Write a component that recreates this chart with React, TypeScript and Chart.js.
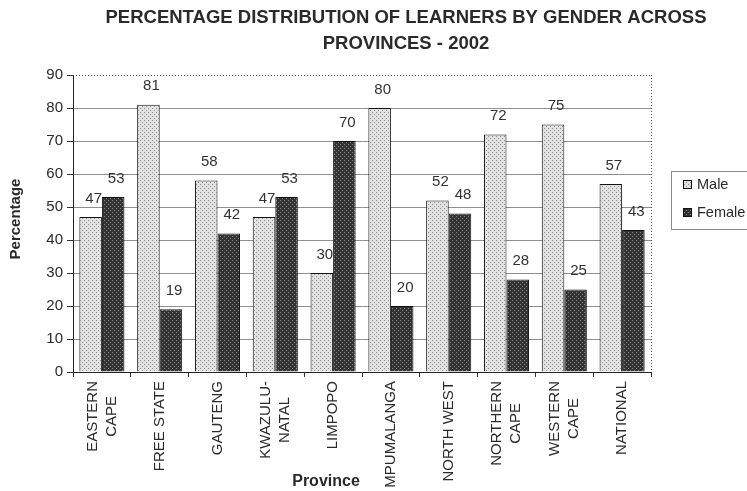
import React, { useEffect, useRef } from 'react';
import { Chart, registerables } from 'chart.js';

Chart.register(...registerables);

const titleLines = ['PERCENTAGE DISTRIBUTION OF LEARNERS BY GENDER ACROSS', 'PROVINCES - 2002'];
const categories: string[][] = [
  ['EASTERN', 'CAPE'],
  ['FREE STATE'],
  ['GAUTENG'],
  ['KWAZULU-', 'NATAL'],
  ['LIMPOPO'],
  ['MPUMALANGA'],
  ['NORTH WEST'],
  ['NORTHERN', 'CAPE'],
  ['WESTERN', 'CAPE'],
  ['NATIONAL'],
];
const maleValues = [47, 81, 58, 47, 30, 80, 52, 72, 75, 57];
const femaleValues = [53, 19, 42, 53, 70, 20, 48, 28, 25, 43];
const seriesNames = ['Male', 'Female'];
const yMin = 0;
const yMax = 90;
const yStep = 10;
const xTitle = 'Province';
const yTitle = 'Percentage';

const FONT = "'Liberation Sans', Arial, Helvetica, sans-serif";

function makePattern(bg: string, fg: string, pts: number[][]): CanvasPattern | string {
  const c = document.createElement('canvas');
  c.width = 4;
  c.height = 4;
  const x = c.getContext('2d');
  if (!x) return bg;
  x.fillStyle = bg;
  x.fillRect(0, 0, 4, 4);
  x.fillStyle = fg;
  pts.forEach(([a, b]) => x.fillRect(a, b, 1, 1));
  return x.createPattern(c, 'repeat') || bg;
}

function drawValueLabels(chart: any, dsIndex: number) {
  const ctx = chart.ctx;
  const meta = chart.getDatasetMeta(dsIndex);
  const data = chart.data.datasets[dsIndex].data;
  ctx.save();
  ctx.font = `15px ${FONT}`;
  ctx.fillStyle = '#333';
  ctx.textAlign = 'center';
  ctx.textBaseline = 'bottom';
  meta.data.forEach((el: any, i: number) => {
    ctx.fillText(String(data[i]), el.x + 3, el.y - 11);
  });
  ctx.restore();
}

export default function App() {
  const ref = useRef<HTMLCanvasElement>(null);

  useEffect(() => {
    if (!ref.current) return;
    const malePat = makePattern('#e2e2e2', '#8c8c8c', [[0, 0], [2, 2]]);
    const femalePat = makePattern('#333333', '#858585', [[0, 0], [2, 2]]);

    const decor = {
      id: 'decor',
      beforeDatasetsDraw(chart: any) {
        drawValueLabels(chart, 0);
      },
      afterDatasetsDraw(chart: any) {
        drawValueLabels(chart, 1);
      },
      afterDraw(chart: any) {
        const ctx = chart.ctx;
        const area = chart.chartArea;
        const xs = chart.scales.x;
        ctx.save();
        // dotted top and right border
        ctx.strokeStyle = '#555';
        ctx.lineWidth = 1;
        ctx.setLineDash([1, 2]);
        ctx.beginPath();
        ctx.moveTo(area.left, Math.round(area.top) + 0.5);
        ctx.lineTo(area.right, Math.round(area.top) + 0.5);
        ctx.moveTo(Math.round(area.right) + 0.5, area.top);
        ctx.lineTo(Math.round(area.right) + 0.5, area.bottom);
        ctx.stroke();
        ctx.setLineDash([]);

        // title
        ctx.fillStyle = '#2a2a2a';
        ctx.font = `bold 18.5px ${FONT}`;
        ctx.textAlign = 'center';
        ctx.textBaseline = 'middle';
        titleLines.forEach((t, i) => ctx.fillText(t, 406, 18 + i * 26));

        // x title
        ctx.font = `bold 16px ${FONT}`;
        ctx.fillText(xTitle, 326, 482);

        // y title
        ctx.save();
        ctx.translate(16, 219);
        ctx.rotate(-Math.PI / 2);
        ctx.font = `bold 15px ${FONT}`;
        ctx.fillText(yTitle, 0, 0);
        ctx.restore();

        // x category labels
        ctx.fillStyle = '#2a2a2a';
        ctx.font = `15px ${FONT}`;
        categories.forEach((lines, i) => {
          const x = xs.getPixelForValue(i);
          ctx.save();
          ctx.translate(x, 381);
          ctx.rotate(-Math.PI / 2);
          const maxW = Math.max(...lines.map((l) => ctx.measureText(l).width));
          const lh = 19;
          ctx.textAlign = 'center';
          ctx.textBaseline = 'middle';
          lines.forEach((l, j) => {
            ctx.fillText(l, -maxW / 2, (j - (lines.length - 1) / 2) * lh);
          });
          ctx.restore();
        });

        // legend
        ctx.strokeStyle = '#8a8a8a';
        ctx.lineWidth = 1;
        ctx.strokeRect(671.5, 171.5, 100, 58);
        const pats = [malePat, femalePat];
        seriesNames.forEach((name, i) => {
          const y = 185 + i * 28;
          ctx.fillStyle = pats[i] as any;
          ctx.fillRect(683, y - 4, 8, 8);
          ctx.strokeStyle = '#111';
          ctx.strokeRect(683.5, y - 4.5, 8, 8);
          ctx.fillStyle = '#2a2a2a';
          ctx.font = `14.5px ${FONT}`;
          ctx.textAlign = 'left';
          ctx.textBaseline = 'middle';
          ctx.fillText(name, 697, y);
        });
        ctx.restore();
      },
    };

    const chart = new Chart(ref.current, {
      type: 'bar',
      data: {
        labels: categories.map((c) => c.join(' ')),
        datasets: [
          {
            label: seriesNames[0],
            data: maleValues,
            backgroundColor: malePat as any,
            borderColor: '#111',
            borderWidth: 1,
            categoryPercentage: 0.78,
            barPercentage: 1.0,
          },
          {
            label: seriesNames[1],
            data: femaleValues,
            backgroundColor: femalePat as any,
            borderColor: '#111',
            borderWidth: 1,
            categoryPercentage: 0.78,
            barPercentage: 1.0,
          },
        ],
      },
      options: {
        animation: false,
        responsive: true,
        maintainAspectRatio: false,
        layout: { padding: { left: 0, right: 96, top: 75, bottom: 0 } },
        plugins: {
          legend: { display: false },
          title: { display: false },
          tooltip: { enabled: false },
        },
        scales: {
          x: {
            ticks: { display: false },
            grid: {
              display: true,
              drawOnChartArea: false,
              drawTicks: true,
              tickLength: 5,
              offset: true,
              color: '#333',
            },
            border: { display: true, color: '#222', width: 1 },
            afterFit(scale: any) {
              scale.height = 119;
            },
          },
          y: {
            min: yMin,
            max: yMax,
            ticks: {
              stepSize: yStep,
              font: { family: FONT, size: 15 },
              color: '#2a2a2a',
              padding: 4,
            },
            grid: {
              color: (c: any) => (c.tick && c.tick.value === yMax ? 'rgba(0,0,0,0)' : '#8f8f8f'),
              tickColor: '#333',
              tickLength: 6,
              drawTicks: true,
            },
            border: { display: true, color: '#222', width: 1 },
            afterFit(scale: any) {
              scale.width = 73;
            },
          },
        },
      },
      plugins: [decor],
    });
    return () => chart.destroy();
  }, []);

  return (
    <div style={{ position: 'fixed', left: 0, top: 0, width: 747, height: 491, background: '#fff' }}>
      <canvas ref={ref} />
    </div>
  );
}
